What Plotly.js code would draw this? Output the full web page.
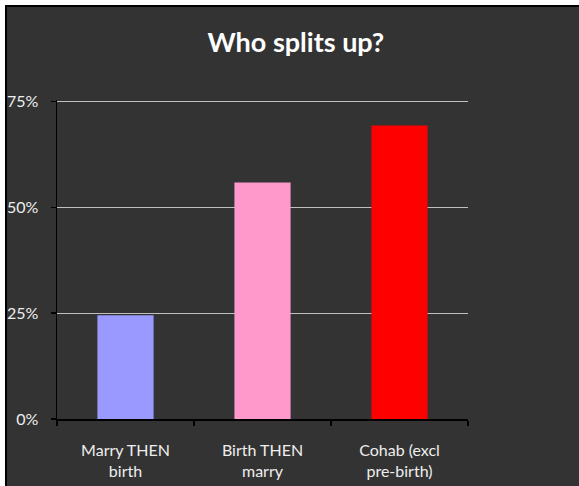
<!DOCTYPE html>
<html>
<head>
<meta charset="utf-8">
<script src="https://cdn.plot.ly/plotly-3.0.1.min.js"></script>
<style>
  html, body { margin: 0; padding: 0; background: #ffffff; width: 579px; height: 486px; overflow: hidden; }
  #chart { position: absolute; left: 5px; top: 5px; width: 572px; height: 479px;
           border-left: 2px solid #000; border-top: 2px solid #000; }
</style>
</head>
<body>
<div id="chart"></div>
<script>
const categories = ["Marry THEN<br>birth", "Birth THEN<br>marry", "Cohab (excl<br>pre-birth)"];
const values = [0.245, 0.559, 0.694];
const barColors = ["#9999ff", "#ff99cc", "#ff0000"];
const yTickVals = [0, 0.25, 0.5, 0.75];
const yTickText = ["0%", "25%", "50%", "75%"];

const data = [{
  type: "bar",
  x: categories,
  y: values,
  width: 0.41,
  marker: { color: barColors, line: { width: 0 } },
  hoverinfo: "skip"
}];

const layout = {
  width: 572,
  height: 479,
  margin: { l: 50, r: 111, t: 93, b: 67 },
  paper_bgcolor: "#333333",
  plot_bgcolor: "#333333",
  showlegend: false,
  title: {
    text: "<b>Who splits up?</b>",
    font: { family: "Lato, 'Open Sans', sans-serif", size: 27, color: "#ffffff" },
    x: 0.505, xanchor: "center",
    y: 0.925, yanchor: "middle"
  },
  xaxis: {
    type: "category",
    showline: true, linecolor: "#000000", linewidth: 1.5,
    ticks: "outside", tickson: "boundaries", ticklen: 5, tickcolor: "#000000", tickwidth: 1.5,
    showgrid: false, zeroline: false,
    tickfont: { family: "Lato, 'Open Sans', sans-serif", size: 16, color: "#eeeeee" },
    ticklabelstandoff: 16
  },
  yaxis: {
    range: [0, 0.754],
    tickvals: yTickVals, ticktext: yTickText,
    showline: true, linecolor: "#000000", linewidth: 1.5,
    ticks: "outside", ticklen: 5, tickcolor: "#000000", tickwidth: 1.5,
    showgrid: true, gridcolor: "#bfbfbf", gridwidth: 1,
    zeroline: false,
    tickfont: { family: "Lato, 'Open Sans', sans-serif", size: 16, color: "#eeeeee" },
    ticklabelstandoff: 9
  },
  bargap: 0.59
};

Plotly.newPlot("chart", data, layout, { displayModeBar: false, staticPlot: true });
</script>
</body>
</html>
